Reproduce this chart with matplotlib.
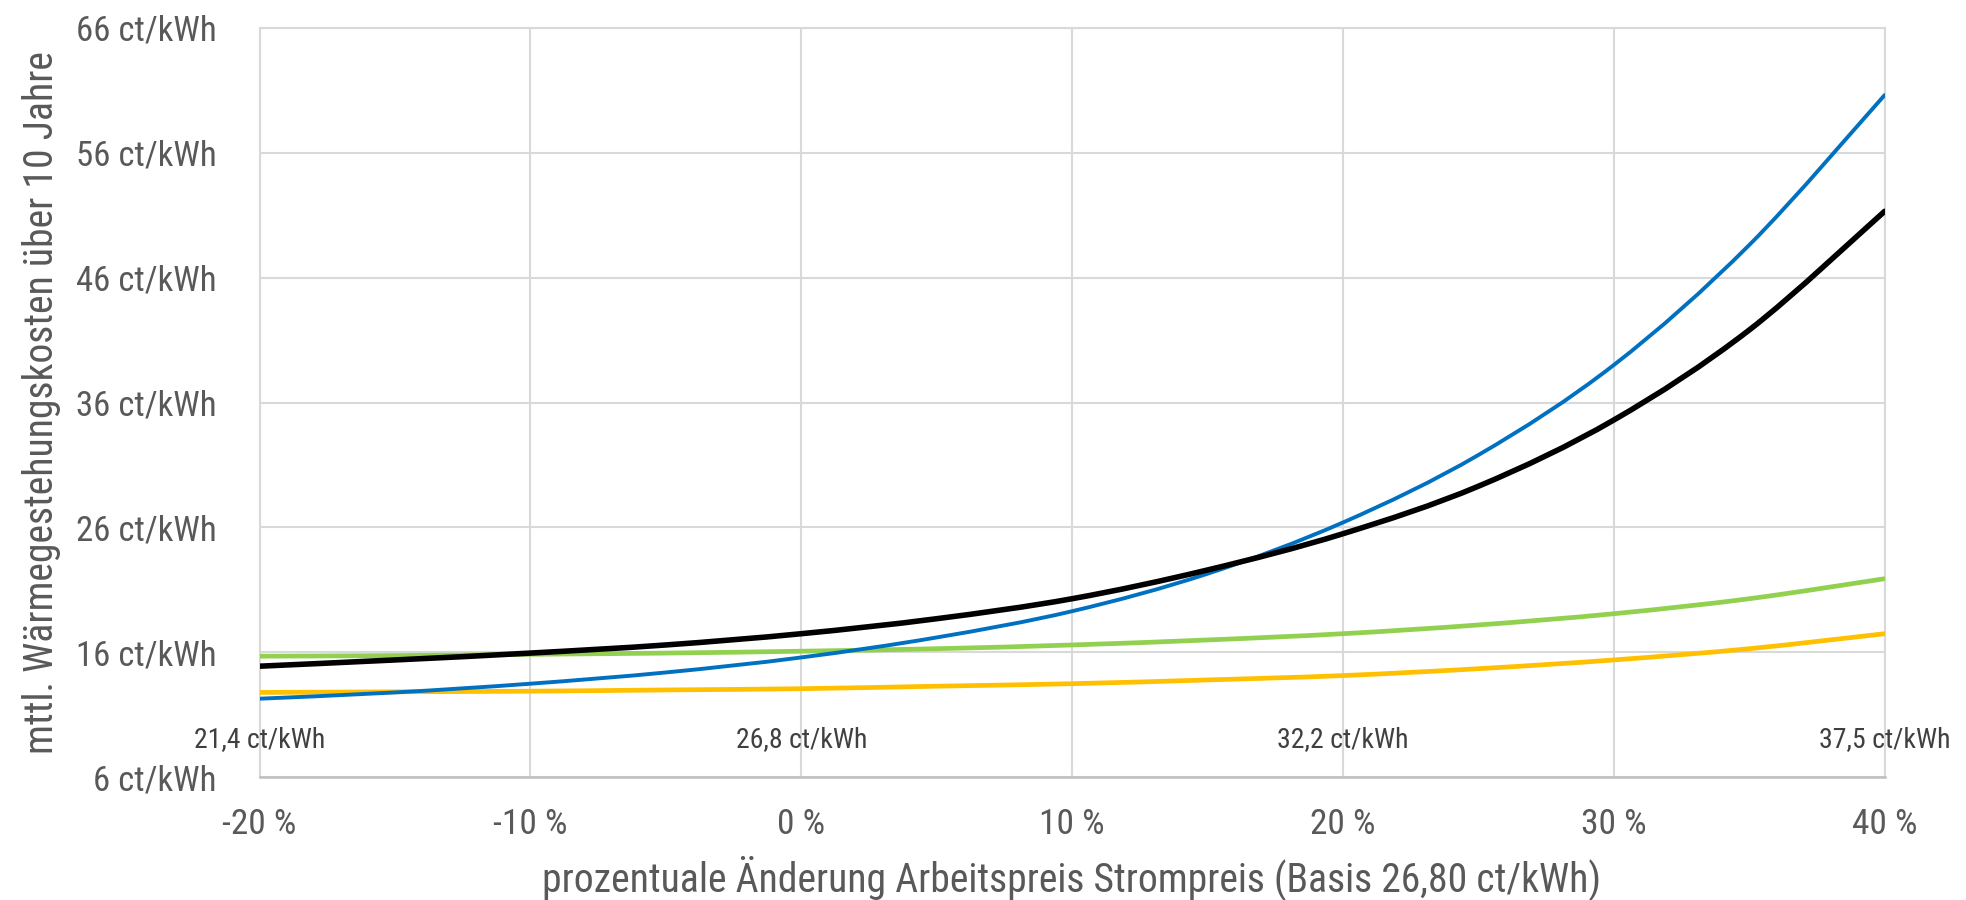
import matplotlib
matplotlib.use("Agg")
import matplotlib.pyplot as plt
from matplotlib import font_manager
from matplotlib.path import Path
from matplotlib.patches import PathPatch

# ---------------- data ----------------
x_pct = [-20, -15, -10, -5, 0, 5, 10, 15, 20, 25, 30, 35, 40]
blue = [12.3, 12.8, 13.5, 14.4, 15.6, 17.2, 19.3, 22.3, 26.4, 31.8, 39.0, 48.6, 60.6]
black = [14.9, 15.4, 15.95, 16.6, 17.5, 18.7, 20.3, 22.6, 25.5, 29.3, 34.6, 41.8, 51.3]
green = [15.7, 15.75, 15.85, 15.95, 16.1, 16.3, 16.6, 17.0, 17.5, 18.2, 19.1, 20.3, 21.9]
yellow = [12.8, 12.85, 12.9, 13.0, 13.1, 13.3, 13.5, 13.8, 14.15, 14.7, 15.4, 16.3, 17.5]

x_ticks = [-20, -10, 0, 10, 20, 30, 40]
x_ticklabels = ["-20 %", "-10 %", "0 %", "10 %", "20 %", "30 %", "40 %"]
y_ticks = [6, 16, 26, 36, 46, 56, 66]
y_ticklabels = ["6 ct/kWh", "16 ct/kWh", "26 ct/kWh", "36 ct/kWh", "46 ct/kWh", "56 ct/kWh", "66 ct/kWh"]

price_x = [-20, 0, 20, 40]
price_labels = ["21,4 ct/kWh", "26,8 ct/kWh", "32,2 ct/kWh", "37,5 ct/kWh"]
price_label_y = 9.0

xlabel = "prozentuale Änderung Arbeitspreis Strompreis (Basis 26,80 ct/kWh)"
ylabel = "mttl. Wärmegestehungskosten über 10 Jahre"

# ---------------- fonts: prefer a condensed face ----------------
def pick_condensed():
    prefs = ["liberationsansnarrow-regular", "arialn", "robotocondensed-regular",
             "dejavusanscondensed.", "opensans_condensed-regular", "opensanscondensed",
             "notosans-condensed.", "notosanscondensed-regular", "notosans_condensed-regular"]
    files = [f.fname for f in font_manager.fontManager.ttflist]
    low = [f.lower().replace(" ", "") for f in files]
    for p in prefs:
        for fn, l in zip(files, low):
            if p in l.split("/")[-1]:
                return fn
    for fn, l in zip(files, low):
        b = l.split("/")[-1]
        if ("condensed" in b or "narrow" in b) and not any(k in b for k in ["bold", "italic", "oblique", "light", "thin", "medium", "semi", "black", "extra"]):
            return fn
    return None

cfile = pick_condensed()
if cfile:
    FP = lambda s: font_manager.FontProperties(fname=cfile, size=s)
    sc = 1.0
else:
    FP = lambda s: font_manager.FontProperties(family=["Liberation Sans", "DejaVu Sans"], size=s)
    sc = 0.85

txt_col = "#595959"
grid_col = "#d9d9d9"

fig = plt.figure(figsize=(19.66, 9.0), dpi=100)
ax = fig.add_axes([0.132, 0.1362, 0.8266, 0.8331])


def smooth_path(xs, ys):
    pts = list(zip(xs, ys))
    n = len(pts)
    verts = [pts[0]]
    codes = [Path.MOVETO]
    for i in range(n - 1):
        p0 = pts[i - 1] if i > 0 else pts[i]
        p1 = pts[i]
        p2 = pts[i + 1]
        p3 = pts[i + 2] if i + 2 < n else pts[i + 1]
        c1 = (p1[0] + (p2[0] - p0[0]) / 6.0, p1[1] + (p2[1] - p0[1]) / 6.0)
        c2 = (p2[0] - (p3[0] - p1[0]) / 6.0, p2[1] - (p3[1] - p1[1]) / 6.0)
        verts += [c1, c2, p2]
        codes += [Path.CURVE4] * 3
    return Path(verts, codes)


series = [(yellow, "#FFC000", 3.4, 3), (green, "#92D050", 3.4, 3),
          (blue, "#0070C0", 2.8, 4), (black, "#000000", 4.0, 5)]
for ys, col, lw, z in series:
    ax.add_patch(PathPatch(smooth_path(x_pct, ys), facecolor="none", edgecolor=col,
                           lw=lw, capstyle="round", joinstyle="round", zorder=z))

ax.set_xlim(-20, 40)
ax.set_ylim(6, 66)
ax.set_xticks(x_ticks)
ax.set_xticklabels(x_ticklabels, fontproperties=FP(25.5 * sc), color=txt_col)
ax.set_yticks(y_ticks)
ax.set_yticklabels(y_ticklabels, fontproperties=FP(25 * sc), color=txt_col)
ax.tick_params(axis="both", length=0)
ax.tick_params(axis="y", pad=31)
ax.tick_params(axis="x", pad=22)

ax.grid(True, color=grid_col, lw=1.5, zorder=0)
ax.set_axisbelow(True)
for s in ["top", "right", "left"]:
    ax.spines[s].set_color(grid_col)
    ax.spines[s].set_linewidth(1.5)
ax.spines["bottom"].set_color("#bfbfbf")
ax.spines["bottom"].set_linewidth(1.8)

for xv, lab in zip(price_x, price_labels):
    ax.text(xv, price_label_y, lab, ha="center", va="center", fontproperties=FP(20 * sc),
            color="#404040", zorder=6)

fig.text(0.545, 0.024, xlabel, ha="center", va="center", fontproperties=FP(28.5 * sc), color=txt_col)
fig.text(0.021, 0.553, ylabel, ha="center", va="center", rotation=90, fontproperties=FP(28.5 * sc), color=txt_col)

fig.savefig("out.png", dpi=100)
